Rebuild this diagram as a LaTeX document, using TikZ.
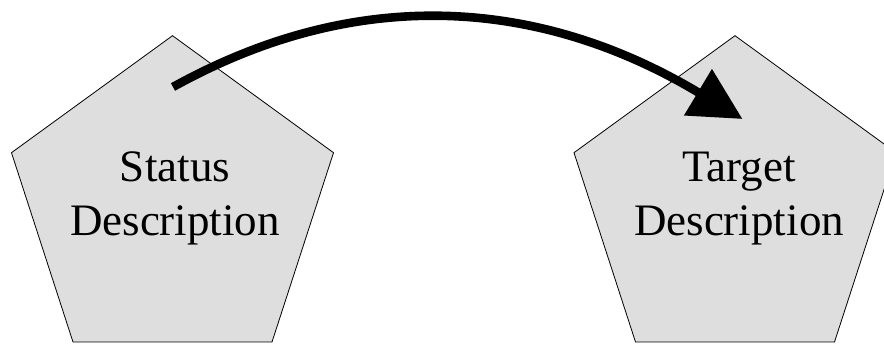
\documentclass[tikz,border=0pt]{standalone}
\usepackage{fontspec}
\setmainfont{Liberation Serif}
\usetikzlibrary{shapes.geometric,arrows.meta,calc}
\definecolor{pentfill}{RGB}{222,222,222}
\tikzset{
  pent/.style={regular polygon, regular polygon sides=5, minimum size=338.6pt,
    inner sep=0pt, outer sep=0pt, draw=black, line width=0.8pt, fill=pentfill},
  lbl/.style={align=center, anchor=base, inner sep=0pt,
    font=\fontsize{45}{53.3}\selectfont},
  bigarrow/.style={line width=8.6pt, -{Triangle[length=52pt,width=52pt]}}
}
\begin{document}
\begin{tikzpicture}[x=1pt,y=1pt]
\useasboundingbox (0,0) rectangle (884,347);
\node[pent] (s) at (172.5,142) {};
\node[pent] (t) at (735,142) {};
\node[lbl] (stxt) at ($(s.center)+(2.5,-30.3)$) {Status\\Description};
\node[lbl] (ttxt) at ($(t.center)+(4,-30.3)$) {Target\\Description};
\coordinate (a) at ($(s.center)+(0.5,118)$);
\coordinate (b) at ($(t.center)+(7.5,86)$);
\draw[bigarrow] (a) to[out=29, in=149] (b);
\end{tikzpicture}
\end{document}
